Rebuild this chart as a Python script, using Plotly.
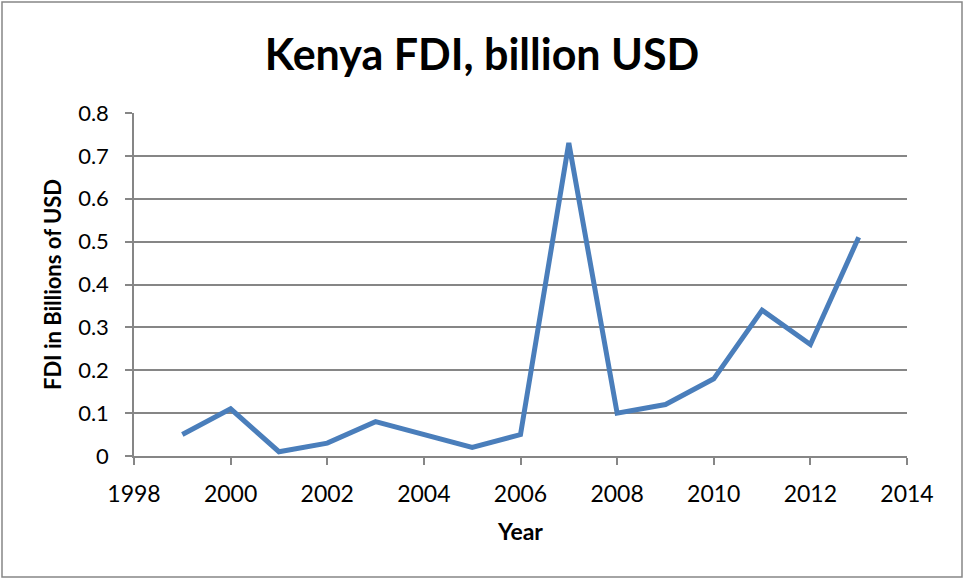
import plotly.graph_objects as go

years = [1999, 2000, 2001, 2002, 2003, 2004, 2005, 2006, 2007, 2008, 2009, 2010, 2011, 2012, 2013]
fdi = [0.05, 0.11, 0.01, 0.03, 0.08, 0.05, 0.02, 0.05, 0.73, 0.10, 0.12, 0.18, 0.34, 0.26, 0.51]

FONT = "Lato, Open Sans, sans-serif"
L, R, T, B = 134, 57, 113, 123
W, H = 964, 579
pw, ph = W - L - R, H - T - B

fig = go.Figure(go.Scatter(x=years, y=fdi, mode="lines",
                           line=dict(color="#4a7ebb", width=5)))

fig.update_layout(
    width=W, height=H,
    margin=dict(l=L, r=R, t=T, b=B),
    paper_bgcolor="white", plot_bgcolor="white",
    font=dict(family=FONT, color="black", size=23),
    showlegend=False,
    title=dict(text="<b>Kenya FDI, billion USD</b>", x=0.5, xanchor="center",
               y=1 - 55 / H, yanchor="middle", font=dict(size=43, family=FONT)),
    xaxis=dict(range=[1998, 2014], tickmode="linear", tick0=1998, dtick=2,
               showgrid=False, zeroline=False, showline=True, linecolor="#868686", linewidth=1.5,
               ticks="outside", ticklen=7, tickcolor="#868686", tickwidth=1.5,
               ticklabelstandoff=10,
               tickfont=dict(size=23), title=dict(text="<b>Year</b>", font=dict(size=23), standoff=18)),
    yaxis=dict(range=[0, 0.8], tickmode="linear", tick0=0, dtick=0.1,
               showgrid=True, gridcolor="#868686", gridwidth=1.5, zeroline=False,
               showline=True, linecolor="#868686", linewidth=1.5,
               ticks="outside", ticklen=7, tickcolor="#868686", tickwidth=1.5,
               ticklabelstandoff=12,
               tickfont=dict(size=22), title=dict(text="<b>FDI in Billions of USD</b>", font=dict(size=22), standoff=10)),
)

fig.add_shape(type="rect", xref="paper", yref="paper",
              x0=(2 - L) / pw, x1=(962 - L) / pw,
              y0=(H - B - 577) / ph, y1=(H - B - 2) / ph,
              line=dict(color="#868686", width=1.5), fillcolor="rgba(0,0,0,0)", layer="below")

fig.write_html("out.html", config={"displayModeBar": False},
               post_script="document.body.style.margin='0';document.body.style.overflow='hidden';")
